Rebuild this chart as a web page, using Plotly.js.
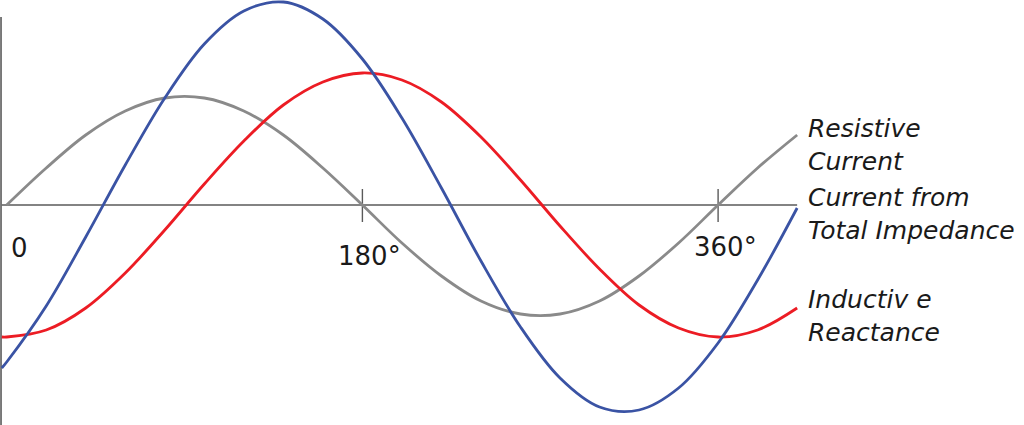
<!DOCTYPE html>
<html>
<head>
<meta charset="utf-8">
<script src="https://cdn.plot.ly/plotly-3.0.1.min.js"></script>
<style>
  html, body { margin: 0; padding: 0; background: #ffffff; }
  #phasePlot { width: 1024px; height: 425px; }
</style>
</head>
<body>
<div id="phasePlot"></div>
<script>
// Phase angle in degrees (first point sits just left of the origin)
const degrees = [-2.5, 0, 20, 40, 60, 80, 100, 120, 140, 160, 180, 200, 220, 240, 260, 280, 300, 320, 340, 360, 380, 400];

// Values (axis units, amplitude of gray ~1.1)
const resistiveCurrent = [null, 0, 0.37, 0.70, 0.94, 1.07, 1.07, 0.94, 0.70, 0.37, 0, -0.38, -0.71, -0.96, -1.09, -1.09, -0.96, -0.71, -0.38, 0, 0.37, 0.70];
const inductiveReactance = [-1.32, -1.32, -1.25, -1.03, -0.68, -0.25, 0.21, 0.64, 1.00, 1.23, 1.32, 1.25, 1.03, 0.68, 0.25, -0.21, -0.64, -1.00, -1.23, -1.32, -1.25, -1.03];
const totalImpedanceCurrent = [-1.63, -1.57, -1.01, -0.32, 0.40, 1.07, 1.61, 1.94, 2.03, 1.86, 1.46, 0.87, 0.17, -0.56, -1.22, -1.73, -2.02, -2.05, -1.83, -1.38, -0.75, -0.03];

// Axis tick marks and their labels
const tickDegrees = [0, 180, 360];
const tickLabels = ['0', '180°', '360°'];

// Series labels on the right
const seriesLabels = ['<i>Resistive<br>Current</i>', '<i>Current from<br>Total Impedance</i>', '<i>Inductiv e<br>Reactance</i>'];

const COLORS = {
    GRAY: '#8a8a8a',
    RED: '#ec1c24',
    BLUE: '#3a53a4',
    AXIS: '#5a5a5a',
    TEXT: '#1a1a1a'
};

const FONT_FAMILY = '"DejaVu Sans", sans-serif';

function waveTrace(y, color) {
    return {
        x: degrees,
        y: y,
        type: 'scatter',
        mode: 'lines',
        line: { color: color, width: 2.8, shape: 'spline', smoothing: 1 },
        connectgaps: false,
        hoverinfo: 'skip'
    };
}

function buildShapes() {
    const shapes = [];
    // horizontal axis, spans the drawn phase range
    shapes.push({
        type: 'line', layer: 'below',
        xref: 'x', yref: 'y',
        x0: degrees[0], x1: degrees[degrees.length - 1], y0: 0, y1: 0,
        line: { color: COLORS.AXIS, width: 1.4 }
    });
    // vertical axis at the left edge
    shapes.push({
        type: 'line', layer: 'below',
        xref: 'paper', yref: 'paper',
        x0: 0.001, x1: 0.001, y0: 0, y1: 0.96,
        line: { color: COLORS.AXIS, width: 1.6 }
    });
    // tick marks (not at the origin)
    tickDegrees.slice(1).forEach(function(d) {
        shapes.push({
            type: 'line', layer: 'below',
            xref: 'x', yref: 'y',
            x0: d, x1: d, y0: 0.16, y1: -0.17,
            line: { color: COLORS.AXIS, width: 1.4 }
        });
    });
    return shapes;
}

function buildAnnotations() {
    const notes = [];
    // tick label nudges, in pixels / axis units
    const xShift = [13, 7, 7];
    const yPos = [-0.43, -0.51, -0.42];
    tickDegrees.forEach(function(d, i) {
        notes.push({
            x: d, y: yPos[i], xref: 'x', yref: 'y',
            text: tickLabels[i], showarrow: false,
            xanchor: 'center', yanchor: 'middle', xshift: xShift[i],
            font: { family: FONT_FAMILY, size: 26, color: COLORS.TEXT }
        });
    });
    const labelY = [0.658, 0.4955, 0.2555];
    seriesLabels.forEach(function(t, i) {
        notes.push({
            x: 806 / 1024, y: labelY[i], xref: 'paper', yref: 'paper',
            text: t, showarrow: false, align: 'left',
            xanchor: 'left', yanchor: 'middle',
            font: { family: FONT_FAMILY, size: 25, color: COLORS.TEXT }
        });
    });
    return notes;
}

const traces = [
    waveTrace(resistiveCurrent, COLORS.GRAY),
    waveTrace(inductiveReactance, COLORS.RED),
    waveTrace(totalImpedanceCurrent, COLORS.BLUE)
];

const layout = {
    width: 1024,
    height: 425,
    margin: { l: 0, r: 0, t: 0, b: 0, pad: 0 },
    paper_bgcolor: '#ffffff',
    plot_bgcolor: '#ffffff',
    showlegend: false,
    xaxis: { range: [-3.39, 514.8], visible: false, fixedrange: true },
    yaxis: { range: [-2.2, 2.05], visible: false, fixedrange: true },
    shapes: buildShapes(),
    annotations: buildAnnotations()
};

Plotly.newPlot('phasePlot', traces, layout, { displayModeBar: false, staticPlot: true });
</script>
</body>
</html>
